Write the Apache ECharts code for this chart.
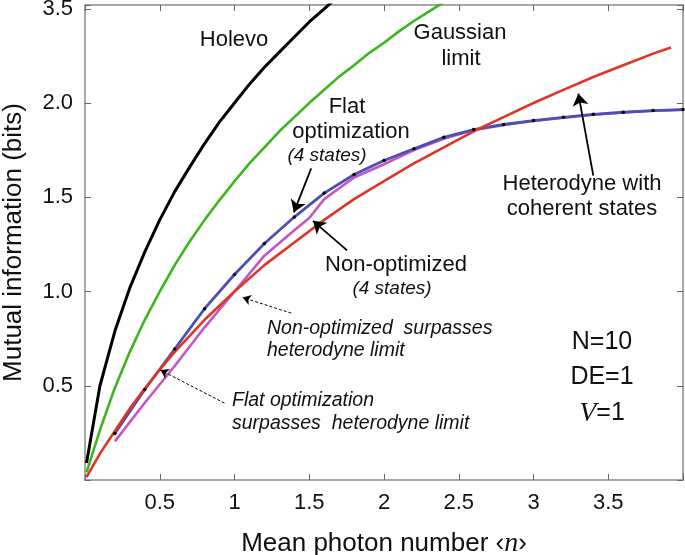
<!DOCTYPE html>
<html>
<head>
<meta charset="utf-8">
<script src="https://cdn.jsdelivr.net/npm/echarts@6/dist/echarts.min.js"></script>
<style>
  html, body { margin: 0; padding: 0; background: #fff; }
  #chart { width: 685px; height: 555px; }
</style>
</head>
<body>
<div id="chart"></div>
<script>
// values (x = mean photon number, y = bits)
const holevoN = [0.01, 0.1, 0.2, 0.3, 0.4, 0.5, 0.6, 0.7, 0.8, 0.9, 1.0, 1.1, 1.2, 1.3, 1.4, 1.5, 1.6, 1.7];
const holevoBits = [0.09, 0.5, 0.79, 1.02, 1.21, 1.38, 1.53, 1.66, 1.785, 1.9, 2.0, 2.1, 2.19, 2.27, 2.35, 2.43, 2.50, 2.57];

const gaussN = [0.01, 0.1, 0.2, 0.3, 0.4, 0.5, 0.6, 0.7, 0.8, 0.9, 1.0, 1.1, 1.2, 1.3, 1.4, 1.5, 1.6, 1.7, 1.8, 1.9, 2.0, 2.1, 2.2, 2.3, 2.4, 2.5];
const gaussBits = [0.04, 0.265, 0.49, 0.68, 0.85, 1.0, 1.14, 1.265, 1.38, 1.485, 1.585, 1.68, 1.765, 1.85, 1.925, 2.0, 2.07, 2.14, 2.2, 2.265, 2.32, 2.38, 2.435, 2.485, 2.535, 2.585];

const hetN = [0.01, 0.1, 0.2, 0.3, 0.4, 0.5, 0.6, 0.7, 0.8, 1.0, 1.2, 1.4, 1.6, 1.8, 2.0, 2.2, 2.4, 2.6, 2.8, 3.0, 3.2, 3.4, 3.6, 3.8, 3.92];
const hetBits = [0.015, 0.14, 0.26, 0.38, 0.485, 0.585, 0.68, 0.765, 0.85, 1.0, 1.14, 1.26, 1.38, 1.49, 1.585, 1.68, 1.765, 1.85, 1.925, 2.0, 2.07, 2.138, 2.2, 2.262, 2.295];

const flatN = [0.2, 0.4, 0.6, 0.8, 1.0, 1.2, 1.4, 1.6, 1.8, 2.0, 2.2, 2.4, 2.6, 2.8, 3.0, 3.2, 3.4, 3.6, 3.8, 4.0];
const flatBits = [0.247, 0.48, 0.695, 0.909, 1.09, 1.255, 1.395, 1.522, 1.621, 1.695, 1.757, 1.818, 1.859, 1.886, 1.907, 1.924, 1.94, 1.951, 1.96, 1.965];

const nonOptN = [0.2, 0.4, 0.6, 0.8, 1.0, 1.2, 1.4, 1.5, 1.6, 1.8, 2.0, 2.2, 2.4, 2.6, 2.8, 3.0, 3.2, 3.4, 3.6, 3.8, 4.0];
const nonOptBits = [0.205, 0.41, 0.605, 0.81, 1.0, 1.19, 1.325, 1.39, 1.49, 1.605, 1.675, 1.75, 1.81, 1.857, 1.884, 1.905, 1.922, 1.938, 1.95, 1.959, 1.964];

// tick labels (the top one is printed as "3.5" in the original)
const xTickValues = [0.5, 1, 1.5, 2, 2.5, 3, 3.5];
const xTickLabels = ['0.5', '1', '1.5', '2', '2.5', '3', '3.5'];
const yTickValues = [0.5, 1, 1.5, 2, 2.5];
const yTickLabels = ['0.5', '1.0', '1.5', '2.0', '3.5'];

// arrows: [fromX, fromY, toX, toY] in data units
const solidArrows = [
  [1.513, 1.653, 1.397, 1.42],   // Flat optimization
  [1.753, 1.218, 1.525, 1.375],  // Non-optimized
  [3.4, 1.615, 3.3, 2.05]        // Heterodyne
];
const dottedArrows = [
  [1.38, 0.885, 1.055, 0.968],
  [0.933, 0.408, 0.505, 0.583]
];

function pairs(xs, ys) {
  return xs.map((x, i) => [x, ys[i]]);
}
function lookup(values, labels, v) {
  for (let i = 0; i < values.length; i++) {
    if (Math.abs(values[i] - v) < 1e-6) return labels[i];
  }
  return '';
}
function arrowData(list) {
  return list.map(a => [{ coord: [a[0], a[1]] }, { coord: [a[2], a[3]] }]);
}

const FONT = '"Liberation Sans", Arial, Helvetica, sans-serif';
const axisGray = '#8a8a8a';

const chart = echarts.init(document.getElementById('chart'));

function txt(text, x, baseline, size, align, italic) {
  return {
    type: 'text',
    silent: true,
    style: {
      text: text,
      x: x,
      y: baseline - size * 0.35,
      fill: '#111',
      font: (italic ? 'italic ' : '') + size + 'px ' + FONT,
      textAlign: align || 'center',
      textVerticalAlign: 'middle'
    }
  };
}

const baseAxis = {
  min: 0,
  axisLine: { show: true, onZero: false, lineStyle: { color: axisGray, width: 1.5 } },
  axisTick: { show: true, inside: true, length: 6, lineStyle: { color: '#666', width: 1 } },
  splitLine: { show: false }
};

const options = {
  animation: false,
  backgroundColor: '#fff',
  grid: { left: 85, right: 2, top: 5, bottom: 75, containLabel: false, outerBoundsMode: 'none' },
  xAxis: [
    Object.assign({}, baseAxis, {
      type: 'value',
      max: 4,
      interval: 0.5,
      name: 'Mean photon number \u2039{i|n}\u203a',
      nameLocation: 'middle',
      nameGap: 50,
      nameTextStyle: {
        fontFamily: FONT, fontSize: 26, color: '#111',
        rich: { i: { fontFamily: '"Liberation Serif", "Times New Roman", serif', fontStyle: 'italic', fontSize: 28, color: '#111' } }
      },
      axisLabel: {
        margin: 12,
        fontFamily: FONT, fontSize: 22, color: '#111',
        formatter: v => lookup(xTickValues, xTickLabels, v)
      }
    }),
    Object.assign({}, baseAxis, {
      type: 'value',
      position: 'top',
      max: 4,
      interval: 0.5,
      axisLabel: { show: false }
    })
  ],
  yAxis: [
    Object.assign({}, baseAxis, {
      type: 'value',
      max: 2.52,
      interval: 0.5,
      name: 'Mutual information (bits)',
      nameLocation: 'middle',
      nameGap: 58,
      nameTextStyle: { fontFamily: FONT, fontSize: 26, color: '#111' },
      axisLabel: {
        margin: 12,
        fontFamily: FONT, fontSize: 22, color: '#111',
        formatter: v => lookup(yTickValues, yTickLabels, v)
      }
    }),
    Object.assign({}, baseAxis, {
      type: 'value',
      position: 'right',
      max: 2.52,
      interval: 0.5,
      axisLabel: { show: false }
    })
  ],
  series: [
    {
      name: 'Holevo',
      type: 'line',
      data: pairs(holevoN, holevoBits),
      showSymbol: false,
      lineStyle: { color: '#000', width: 3 },
      clip: true,
      markLine: {
        silent: true,
        animation: false,
        symbol: ['none', 'arrow'],
        symbolSize: 12,
        label: { show: false },
        lineStyle: { color: '#000', width: 1.8, type: 'solid' },
        data: arrowData(solidArrows)
      }
    },
    {
      name: 'Gaussian limit',
      type: 'line',
      data: pairs(gaussN, gaussBits),
      showSymbol: false,
      lineStyle: { color: '#3cb521', width: 2.6 },
      clip: true,
      markLine: {
        silent: true,
        animation: false,
        symbol: ['none', 'arrow'],
        symbolSize: 8,
        label: { show: false },
        lineStyle: { color: '#000', width: 1, type: [3, 2] },
        data: arrowData(dottedArrows)
      }
    },
    {
      name: 'Non-optimized',
      type: 'line',
      data: pairs(nonOptN, nonOptBits),
      showSymbol: false,
      lineStyle: { color: '#c455c4', width: 2.6 },
      clip: true
    },
    {
      name: 'Flat optimization',
      type: 'line',
      data: pairs(flatN, flatBits),
      symbol: 'circle',
      symbolSize: 3.5,
      showSymbol: true,
      itemStyle: { color: '#000' },
      lineStyle: { color: '#4b50b2', width: 2.8 },
      clip: true
    },
    {
      name: 'Heterodyne',
      type: 'line',
      data: pairs(hetN, hetBits),
      showSymbol: false,
      lineStyle: { color: '#df3524', width: 2.6 },
      clip: true
    }
  ],
  graphic: [
    txt('Holevo', 234, 48, 22),
    txt('Gaussian', 460, 41, 22),
    txt('limit', 461, 67, 22),
    txt('Flat', 347, 115, 22),
    txt('optimization', 351, 140, 22),
    txt('(4 states)', 327, 162, 19, 'center', true),
    txt('Heterodyne with', 582, 192, 22),
    txt('coherent states', 582, 217, 22),
    txt('Non-optimized', 396, 273, 22),
    txt('(4 states)', 392, 295, 19, 'center', true),
    txt('Non-optimized  surpasses', 267, 335, 19.5, 'left', true),
    txt('heterodyne limit', 267, 357, 19.5, 'left', true),
    txt('Flat optimization', 232, 407, 19.5, 'left', true),
    txt('surpasses  heterodyne limit', 232, 430, 19.5, 'left', true),
    txt('N=10', 602, 351, 25),
    txt('DE=1', 602, 386, 25),
    {
      type: 'text',
      silent: true,
      style: {
        text: '{v|V}=1',
        x: 602,
        y: 422 - 25 * 0.35,
        fill: '#111',
        font: '25px ' + FONT,
        textAlign: 'center',
        textVerticalAlign: 'middle',
        rich: {
          v: { fontFamily: '"Liberation Serif", "Times New Roman", serif', fontStyle: 'italic', fontSize: 28, fill: '#111' }
        }
      }
    }
  ]
};

chart.setOption(options);
</script>
</body>
</html>
